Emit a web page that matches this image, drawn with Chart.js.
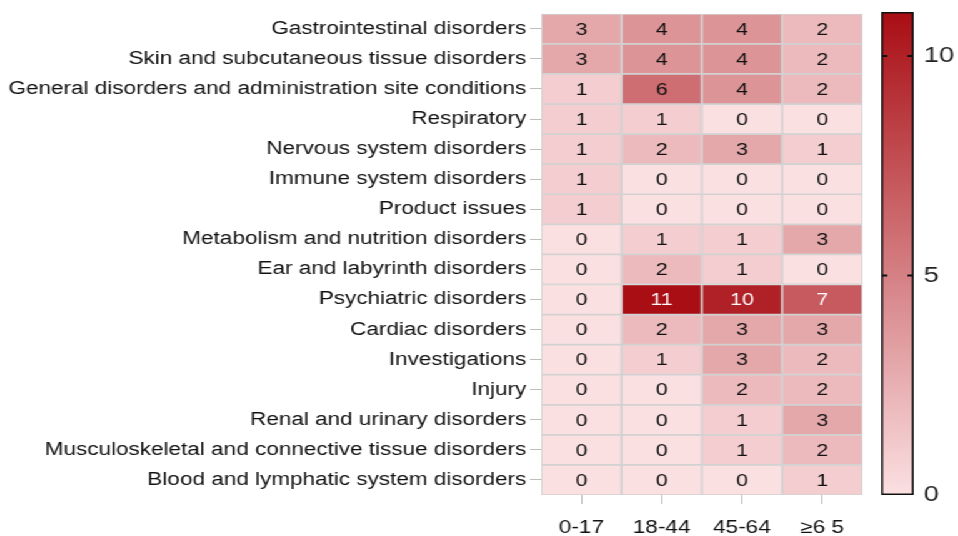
<!DOCTYPE html>
<html lang="en">
<head>
    <meta charset="UTF-8">
    <title>Adverse events by age group</title>
    <style>
        body {
            margin: 0;
            padding: 0;
            background-color: #ffffff;
            font-family: Arial, 'Liberation Sans', sans-serif;
            overflow: hidden;
        }
        /* the reference picture is stretched sideways, so draw narrow and widen */
        #wrap {
            position: relative;
            width: 766px;
            height: 536px;
            transform: scaleX(1.25);
            transform-origin: 0 0;
        }
        #heatWrap {
            position: absolute;
            left: 0;
            top: 0;
            width: 766px;
            height: 536px;
        }
        #barWrap {
            position: absolute;
            left: 690px;
            top: 0;
            width: 76px;
            height: 536px;
        }
    </style>
    <script src="https://cdn.jsdelivr.net/npm/chart.js"></script>
</head>
<body>

<div id="wrap">
    <div id="heatWrap"><canvas id="heatChart"></canvas></div>
    <div id="barWrap"><canvas id="scaleChart"></canvas></div>
</div>

<script>
    // Row categories (top to bottom) and age groups
    const categories = [
        'Gastrointestinal disorders',
        'Skin and subcutaneous tissue disorders',
        'General disorders and administration site conditions',
        'Respiratory',
        'Nervous system disorders',
        'Immune system disorders',
        'Product issues',
        'Metabolism and nutrition disorders',
        'Ear and labyrinth disorders',
        'Psychiatric disorders',
        'Cardiac disorders',
        'Investigations',
        'Injury',
        'Renal and urinary disorders',
        'Musculoskeletal and connective tissue disorders',
        'Blood and lymphatic system disorders'
    ];
    const ageGroups = ['0-17', '18-44', '45-64', '≥6 5'];

    // Counts per age group, same order as categories
    const age0to17  = [3, 3, 1, 1, 1, 1, 1, 0, 0, 0, 0, 0, 0, 0, 0, 0];
    const age18to44 = [4, 4, 6, 1, 2, 0, 0, 1, 2, 11, 2, 1, 0, 0, 0, 0];
    const age45to64 = [4, 4, 4, 0, 3, 0, 0, 1, 1, 10, 3, 3, 2, 1, 1, 0];
    const age65plus = [2, 2, 2, 0, 1, 0, 0, 3, 0, 7, 3, 2, 2, 3, 2, 1];
    const counts = [age0to17, age18to44, age45to64, age65plus];

    // Colour scale range and ticks
    const scaleMin = 0;
    const scaleMax = 11;
    const scaleTicks = [0, 5, 10];

    const FONT = "Arial, 'Liberation Sans', sans-serif";
    const lowColor = [251, 224, 226];
    const highColor = [168, 14, 20];

    function colorFor(v) {
        const t = (v - scaleMin) / (scaleMax - scaleMin);
        const c = lowColor.map((lo, k) => Math.round(lo + (highColor[k] - lo) * t));
        return 'rgb(' + c.join(',') + ')';
    }

    // Each age group is a dataset of floating bars spanning one column
    const datasets = counts.map((col, j) => ({
        label: ageGroups[j],
        data: col.map(() => [j, j + 1]),
        counts: col,
        backgroundColor: col.map(v => colorFor(v)),
        borderColor: '#d2d2d2',
        borderWidth: 1.2,
        borderSkipped: false,
        barPercentage: 1.0,
        categoryPercentage: 1.0
    }));

    // Write the count in the middle of every cell
    const cellLabels = {
        id: 'cellLabels',
        afterDatasetsDraw(chart) {
            const ctx = chart.ctx;
            ctx.save();
            ctx.font = '17px ' + FONT;
            ctx.textAlign = 'center';
            ctx.textBaseline = 'middle';
            chart.data.datasets.forEach((ds, j) => {
                const meta = chart.getDatasetMeta(j);
                meta.data.forEach((bar, i) => {
                    const v = ds.counts[i];
                    const cx = (bar.x + bar.base) / 2;
                    ctx.fillStyle = v >= 7 ? '#ffffff' : '#111111';
                    ctx.fillText(String(v), cx, bar.y + 1);
                });
            });
            ctx.restore();
        }
    };

    new Chart(document.getElementById('heatChart'), {
        type: 'bar',
        data: { labels: categories, datasets: datasets },
        options: {
            indexAxis: 'y',
            responsive: true,
            maintainAspectRatio: false,
            animation: false,
            layout: { padding: { top: 12, right: 76, left: 0, bottom: 0 } },
            plugins: {
                legend: { display: false },
                tooltip: { enabled: false }
            },
            scales: {
                x: {
                    type: 'linear',
                    stacked: false,
                    min: 0,
                    max: ageGroups.length,
                    afterBuildTicks(scale) {
                        scale.ticks = ageGroups.map((_, j) => ({ value: j + 0.5 }));
                    },
                    afterFit(scale) { scale.height = 41; },
                    ticks: {
                        autoSkip: false,
                        maxRotation: 0,
                        padding: 13,
                        color: '#111111',
                        font: { size: 18, family: FONT },
                        callback: (v) => ageGroups[Math.floor(v)]
                    },
                    grid: {
                        drawOnChartArea: false,
                        drawTicks: true,
                        tickLength: 9,
                        color: '#bdbdbd'
                    },
                    border: { display: false }
                },
                y: {
                    type: 'category',
                    stacked: true,
                    afterFit(scale) { scale.width = 433; },
                    ticks: {
                        autoSkip: false,
                        padding: 3,
                        color: '#111111',
                        font: { size: 18, family: FONT }
                    },
                    grid: {
                        offset: false,
                        drawOnChartArea: false,
                        drawTicks: true,
                        tickLength: 9,
                        color: '#bdbdbd'
                    },
                    border: { display: false }
                }
            }
        },
        plugins: [cellLabels]
    });

    // Colour bar: a single floating bar filled with the colour gradient
    const innerTicks = {
        id: 'innerTicks',
        afterDatasetsDraw(chart) {
            const bar = chart.getDatasetMeta(0).data[0];
            const y = chart.scales.y;
            const ctx = chart.ctx;
            const left = bar.x - bar.width / 2;
            const right = bar.x + bar.width / 2;
            ctx.save();
            ctx.strokeStyle = '#111111';
            ctx.lineWidth = 2;
            scaleTicks.forEach(t => {
                if (t === scaleMin) return;
                const py = y.getPixelForValue(t);
                ctx.beginPath();
                ctx.moveTo(left, py);
                ctx.lineTo(left + 5, py);
                ctx.moveTo(right - 5, py);
                ctx.lineTo(right, py);
                ctx.stroke();
            });
            ctx.restore();
        }
    };

    new Chart(document.getElementById('scaleChart'), {
        type: 'bar',
        data: {
            labels: [''],
            datasets: [{
                data: [[scaleMin, scaleMax]],
                backgroundColor(context) {
                    const chart = context.chart;
                    if (!chart.chartArea) return colorFor(scaleMin);
                    const y = chart.scales.y;
                    const g = chart.ctx.createLinearGradient(0, y.getPixelForValue(scaleMin), 0, y.getPixelForValue(scaleMax));
                    g.addColorStop(0, colorFor(scaleMin));
                    g.addColorStop(1, colorFor(scaleMax));
                    return g;
                },
                borderColor: '#111111',
                borderWidth: 1.8,
                borderSkipped: false,
                barPercentage: 1.0,
                categoryPercentage: 1.0
            }]
        },
        options: {
            responsive: true,
            maintainAspectRatio: false,
            animation: false,
            layout: { padding: { top: 12, left: 15, right: 0, bottom: 41 } },
            plugins: {
                legend: { display: false },
                tooltip: { enabled: false }
            },
            scales: {
                x: {
                    display: false
                },
                y: {
                    position: 'right',
                    min: scaleMin,
                    max: scaleMax,
                    afterBuildTicks(scale) {
                        scale.ticks = scaleTicks.map(v => ({ value: v }));
                    },
                    afterFit(scale) {
                        scale.width = 35;
                        scale.paddingTop = 0;
                        scale.paddingBottom = 0;
                    },
                    ticks: {
                        padding: 8,
                        color: '#222222',
                        font: { size: 22, family: FONT }
                    },
                    grid: { display: false, drawTicks: false },
                    border: { display: false }
                }
            }
        },
        plugins: [innerTicks]
    });
</script>

</body>
</html>
